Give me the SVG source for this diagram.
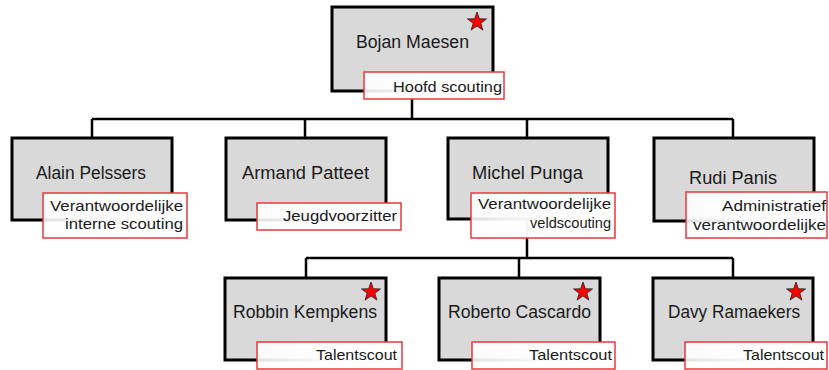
<svg xmlns="http://www.w3.org/2000/svg" width="829" height="370" viewBox="0 0 829 370">
<style>
.box{fill:#d9d9d9;stroke:#000;stroke-width:3}
.lbl{fill:url(#lg);stroke:#e8383d;stroke-width:1.5}
.name{font-family:"Liberation Sans",Arial,sans-serif;font-size:17.5px;fill:#1a1a1a;text-anchor:start}
.role{font-family:"Liberation Sans",Arial,sans-serif;font-size:15px;fill:#1a1a1a;text-anchor:end}
.con{fill:none;stroke:#000;stroke-width:2.5}
</style>
<defs>
<linearGradient id="lg" x1="0" y1="0" x2="1" y2="0">
<stop offset="0" stop-color="#fff" stop-opacity="0.88"/>
<stop offset="0.5" stop-color="#fff" stop-opacity="0.98"/>
<stop offset="1" stop-color="#fff" stop-opacity="1"/>
</linearGradient>
<polygon id="star" points="0,-10 2.35,-3.24 9.51,-3.09 3.8,1.24 5.88,8.09 0,4 -5.88,8.09 -3.8,1.24 -9.51,-3.09 -2.35,-3.24" fill="#ff0000" stroke="#202020" stroke-width="0.8"/>
</defs>
<g id="connectors">
<path class="con" d="M412,91 V119 M92,119 H733 M92,119 V138 M305,119 V138 M527,119 V138 M733,119 V138"/>
<path class="con" d="M527,219 V258 M306,258 H733 M306,258 V278 M519,258 V278 M733,258 V278"/>
</g>
<g id="bojan">
<rect class="box" x="332" y="7" width="161" height="84"/>
<use href="#star" x="477" y="22"/>
<text class="name" x="356" y="48" textLength="113" lengthAdjust="spacingAndGlyphs">Bojan Maesen</text>
<rect class="lbl" x="364" y="72" width="140" height="27"/>
<text class="role" x="502" y="92" textLength="109" lengthAdjust="spacingAndGlyphs">Hoofd scouting</text>
</g>
<g id="alain">
<rect class="box" x="12" y="138" width="160" height="82"/>
<text class="name" x="36" y="179" textLength="110" lengthAdjust="spacingAndGlyphs">Alain Pelssers</text>
<rect class="lbl" x="43" y="193" width="144" height="45"/>
<text class="role" x="183" y="211" textLength="133" lengthAdjust="spacingAndGlyphs">Verantwoordelijke</text>
<text class="role" x="183" y="229" textLength="118" lengthAdjust="spacingAndGlyphs">interne scouting</text>
</g>
<g id="armand">
<rect class="box" x="226" y="138" width="160" height="82"/>
<text class="name" x="242" y="179" textLength="127" lengthAdjust="spacingAndGlyphs">Armand Patteet</text>
<rect class="lbl" x="257" y="203" width="144" height="27"/>
<text class="role" x="397" y="221" textLength="114" lengthAdjust="spacingAndGlyphs">Jeugdvoorzitter</text>
</g>
<g id="michel">
<rect class="box" x="448" y="138" width="160" height="81"/>
<text class="name" x="472" y="179" textLength="111" lengthAdjust="spacingAndGlyphs">Michel Punga</text>
<rect class="lbl" x="471" y="193" width="144" height="45"/>
<text class="role" x="611" y="209" textLength="133" lengthAdjust="spacingAndGlyphs">Verantwoordelijke</text>
<text class="role" x="611" y="228" textLength="81" lengthAdjust="spacingAndGlyphs">veldscouting</text>
</g>
<g id="rudi">
<rect class="box" x="654" y="138" width="160" height="83"/>
<text class="name" x="689" y="184" textLength="88" lengthAdjust="spacingAndGlyphs">Rudi  Panis</text>
<rect class="lbl" x="686" y="192" width="141" height="46"/>
<text class="role" x="826" y="211" textLength="104" lengthAdjust="spacingAndGlyphs">Administratief</text>
<text class="role" x="826" y="230" textLength="133" lengthAdjust="spacingAndGlyphs">verantwoordelijke</text>
</g>
<g id="robbin">
<rect class="box" x="225" y="278" width="161" height="82"/>
<use href="#star" x="371" y="292"/>
<text class="name" x="233" y="318" textLength="144" lengthAdjust="spacingAndGlyphs">Robbin Kempkens</text>
<rect class="lbl" x="257" y="342" width="145" height="27"/>
<text class="role" x="397" y="360" textLength="81" lengthAdjust="spacingAndGlyphs">Talentscout</text>
</g>
<g id="roberto">
<rect class="box" x="439" y="278" width="161" height="82"/>
<use href="#star" x="583" y="292"/>
<text class="name" x="448" y="318" textLength="143" lengthAdjust="spacingAndGlyphs">Roberto Cascardo</text>
<rect class="lbl" x="472" y="342" width="143" height="27"/>
<text class="role" x="612" y="360" textLength="83" lengthAdjust="spacingAndGlyphs">Talentscout</text>
</g>
<g id="davy">
<rect class="box" x="653" y="278" width="160" height="82"/>
<use href="#star" x="796" y="292"/>
<text class="name" x="668" y="318" textLength="132" lengthAdjust="spacingAndGlyphs">Davy Ramaekers</text>
<rect class="lbl" x="685" y="342" width="142" height="27"/>
<text class="role" x="824" y="360" textLength="81" lengthAdjust="spacingAndGlyphs">Talentscout</text>
</g>
</svg>
